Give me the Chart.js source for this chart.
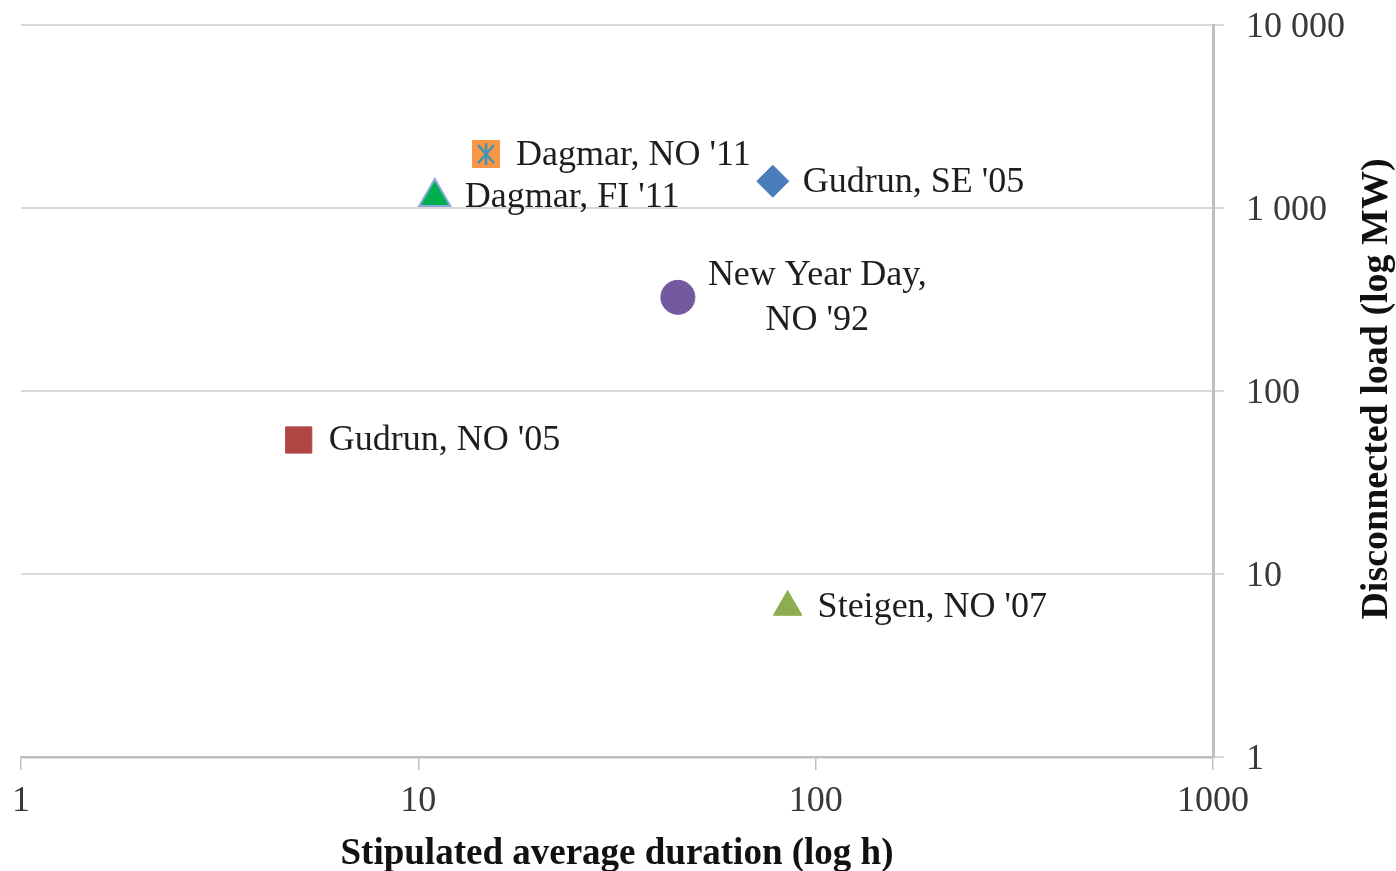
<!DOCTYPE html>
<html><head><meta charset="utf-8">
<script src="https://cdn.jsdelivr.net/npm/chart.js@4/dist/chart.umd.min.js"></script>
<style>html,body{margin:0;padding:0;background:#fff;} #wrap{width:1396px;height:871px;}</style>
</head><body><div id="wrap"><canvas id="c" width="1396" height="871"></canvas></div>
<script>
// ---- data ----
const eventNames = ["Gudrun, SE '05", "Dagmar, NO '11", "Dagmar, FI '11", ["New Year Day,", "NO '92"], "Gudrun, NO '05", "Steigen, NO '07"];
const durationHours = [78, 14.8, 11, 45, 5, 85];
const disconnectedMW = [1400, 1970, 1150, 325, 54, 6.6];
const xTickValues = [1, 10, 100, 1000];
const xTickLabels = ['1', '10', '100', '1000'];
const yTickValues = [1, 10, 100, 1000, 10000];
const yTickLabels = ['1', '10', '100', '1 000', '10 000'];
const xTitle = 'Stipulated average duration (log h)';
const yTitle = 'Disconnected load (log MW)';

// ---- styles ----
const FONT = '"Liberation Serif", "Times New Roman", serif';
function starBox(size, fill, stroke) {
  const c = document.createElement('canvas');
  c.width = size; c.height = size;
  const g = c.getContext('2d');
  g.fillStyle = fill; g.fillRect(0, 0, size, size);
  g.strokeStyle = stroke; g.lineWidth = 2.5;
  g.beginPath();
  g.moveTo(size / 2, 3); g.lineTo(size / 2, size - 3);
  g.moveTo(6, 5); g.lineTo(size - 6, size - 5);
  g.moveTo(size - 6, 5); g.lineTo(6, size - 5);
  g.stroke();
  return c;
}
const markerStyles = [
  { style: 'rectRot', bg: '#4A7EBB', border: '#4A7EBB', bw: 1, r: 16 },
  { style: starBox(28, '#F79646', '#3D93B8'), bg: '#F79646', border: '#F79646', bw: 0, r: 14 },
  { style: 'triangle', bg: '#00B050', border: '#8EA9D6', bw: 2, r: 18 },
  { style: 'circle', bg: '#7458A0', border: '#7458A0', bw: 1, r: 17 },
  { style: 'rect', bg: '#B04643', border: '#B04643', bw: 1, r: 18.5 },
  { style: 'triangle', bg: '#8DAE50', border: '#8DAE50', bw: 1, r: 16.5 }
];

const datasets = eventNames.map((n, i) => ({
  label: Array.isArray(n) ? n.join(' ') : n,
  data: [{ x: durationHours[i], y: disconnectedMW[i] }],
  pointStyle: markerStyles[i].style,
  pointRadius: markerStyles[i].r,
  pointBackgroundColor: markerStyles[i].bg,
  pointBorderColor: markerStyles[i].border,
  pointBorderWidth: markerStyles[i].bw,
  showLine: false
}));

const labelPlugin = {
  id: 'pointLabels',
  afterDatasetsDraw(chart) {
    const ctx = chart.ctx;
    ctx.save();
    ctx.font = '36px ' + FONT;
    ctx.fillStyle = '#1e1e1e';
    ctx.textBaseline = 'middle';
    ctx.textAlign = 'center';
    eventNames.forEach((n, i) => {
      const el = chart.getDatasetMeta(i).data[0];
      const lines = Array.isArray(n) ? n : [n];
      const maxW = Math.max(...lines.map(l => ctx.measureText(l).width));
      const left = el.x + 30;
      lines.forEach((l, j) => {
        ctx.fillText(l, left + maxW / 2, el.y + 1 + (j - (lines.length - 1) / 2) * 45);
      });
    });
    ctx.restore();
  },
  afterDraw(chart) {
    const ctx = chart.ctx;
    const a = chart.chartArea;
    ctx.save();
    ctx.font = 'bold 38px ' + FONT;
    ctx.fillStyle = '#111';
    ctx.textAlign = 'center';
    ctx.textBaseline = 'middle';
    ctx.translate(1377, (a.top + a.bottom) / 2 - 2);
    ctx.rotate(-Math.PI / 2);
    ctx.fillText(yTitle, 0, 0);
    ctx.restore();
  }
};

new Chart(document.getElementById('c'), {
  type: 'scatter',
  data: { datasets },
  plugins: [labelPlugin],
  options: {
    responsive: false,
    animation: false,
    devicePixelRatio: 1,
    layout: { padding: { left: 20, top: 25, right: 0, bottom: 0 } },
    plugins: { legend: { display: false }, tooltip: { enabled: false } },
    scales: {
      x: {
        type: 'logarithmic', position: 'bottom', min: 1, max: 1000,
        afterBuildTicks: s => { s.ticks = xTickValues.map(v => ({ value: v })); },
        afterFit: s => { s.height = 114; },
        ticks: {
          callback: v => { const k = xTickValues.indexOf(v); return k >= 0 ? xTickLabels[k] : ''; },
          font: { family: FONT, size: 36, lineHeight: 1.1 }, color: '#3a3a3a', padding: 12,
          maxRotation: 0, autoSkip: false
        },
        grid: { drawOnChartArea: false, drawTicks: true, tickLength: 13, color: '#BFBFBF', lineWidth: 1.5 },
        border: { color: '#BFBFBF', width: 2.5 },
        title: { display: true, text: xTitle, font: { family: FONT, size: 37, weight: 'bold', lineHeight: 0.9 }, color: '#111', padding: 0 }
      },
      y: {
        type: 'logarithmic', position: 'right', min: 1, max: 10000,
        afterBuildTicks: s => { s.ticks = yTickValues.map(v => ({ value: v })); },
        afterFit: s => { s.width = 183; s.paddingTop = 0; s.paddingBottom = 0; },
        ticks: {
          callback: v => { const k = yTickValues.indexOf(v); return k >= 0 ? yTickLabels[k] : ''; },
          font: { family: FONT, size: 36, lineHeight: 1.1 }, color: '#3a3a3a', padding: 22,
          labelOffset: 3, autoSkip: false
        },
        grid: { color: '#D9D9D9', lineWidth: 2, tickLength: 11 },
        border: { color: '#BFBFBF', width: 3 },
        title: { display: false }
      }
    }
  }
});
</script>
</body></html>
